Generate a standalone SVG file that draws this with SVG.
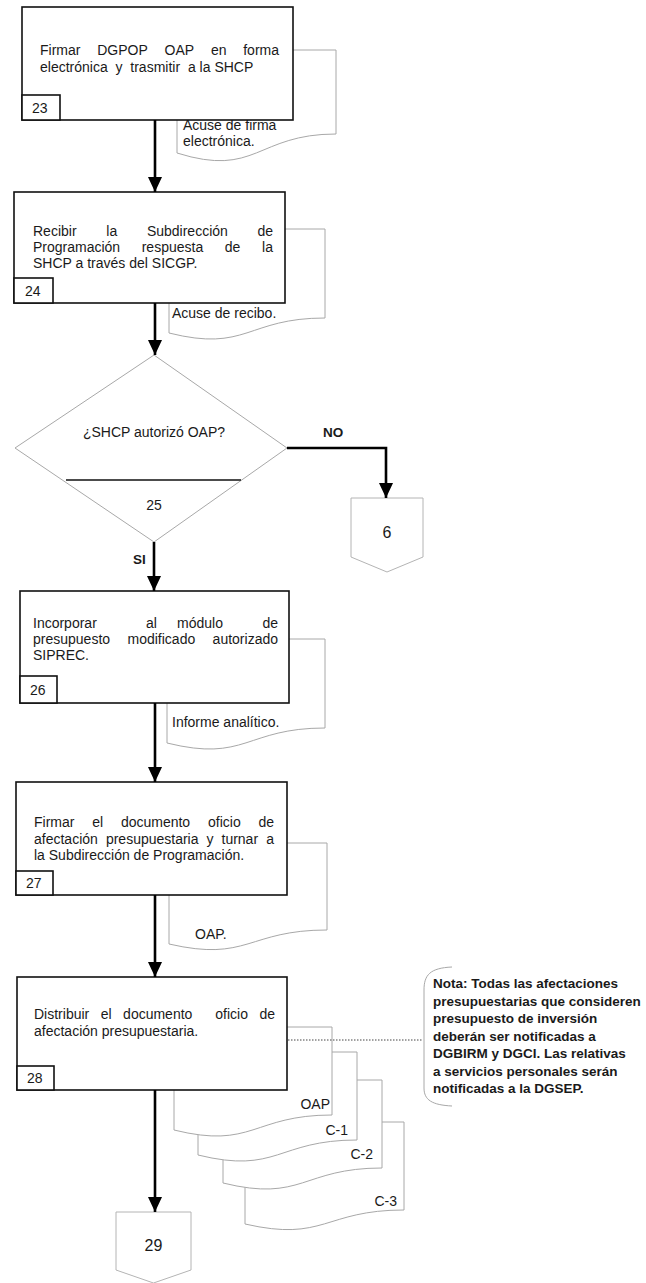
<svg xmlns="http://www.w3.org/2000/svg" width="646" height="1283" viewBox="0 0 646 1283">
<defs>
<style>
.box{fill:#fff;stroke:#111;stroke-width:1.6}
.doc{fill:#fff;stroke:#a8a8a8;stroke-width:1}
.conn{fill:#fff;stroke:#b4b4b4;stroke-width:1}
.dia{fill:#fff;stroke:#a8a8a8;stroke-width:1}
.t{font-family:"Liberation Sans",Arial,sans-serif;font-size:14px;fill:#1a1a1a}
.n{font-family:"Liberation Sans",Arial,sans-serif;font-size:14px;fill:#1a1a1a}
.nb{font-family:"Liberation Sans",Arial,sans-serif;font-size:13.5px;font-weight:bold;fill:#1a1a1a}
.b{font-weight:bold}
.big{font-family:"Liberation Sans",Arial,sans-serif;font-size:16px;fill:#1a1a1a;text-anchor:middle}
.arrow{stroke:#000;stroke-width:2.6;fill:none;marker-end:url(#ah)}
.dot{stroke:#444;stroke-width:1;stroke-dasharray:1.5,1.5;fill:none}
.brk{stroke:#a8a8a8;stroke-width:1;fill:none}
</style>
<marker id="ah" markerUnits="userSpaceOnUse" markerWidth="15" markerHeight="14" refX="15" refY="7" orient="auto">
<path d="M0,0 L15,7 L0,14 Z" fill="#000"/>
</marker>
</defs>
<rect x="0" y="0" width="646" height="1283" fill="#fff"/>

<g id="doc23">
<path class="doc" d="M177,50 H336 V134 C256.5,134 256.5,178 177,153 Z"/>
<text class="t" x="183" y="130">Acuse de firma</text>
<text class="t" x="183" y="146">electrónica.</text>
</g>
<g id="node23">
<rect class="box" x="22" y="7" width="271" height="113"/>
<text class="t" y="55"><tspan x="40">Firmar</tspan><tspan x="97.2">DGPOP</tspan><tspan x="164.5">OAP</tspan><tspan x="210.9">en</tspan><tspan x="279" text-anchor="end">forma</tspan></text>
<text class="t" y="72"><tspan x="40">electrónica</tspan><tspan x="115.5">y</tspan><tspan x="130.3">trasmitir</tspan><tspan x="187.9">a</tspan><tspan x="199.6">la</tspan><tspan x="214.4">SHCP</tspan></text>
<rect class="box" x="22" y="95" width="38" height="25"/>
<text class="n" x="32" y="113">23</text>
</g>

<g id="doc24">
<path class="doc" d="M169,229 H325 V318 C247,318 247,352.6 169,333 Z"/>
<text class="t" x="172" y="318">Acuse de recibo.</text>
</g>
<g id="node24">
<rect class="box" x="14" y="192" width="271" height="111"/>
<text class="t" y="236"><tspan x="33">Recibir</tspan><tspan x="106.3">la</tspan><tspan x="146.9">Subdirección</tspan><tspan x="273" text-anchor="end">de</tspan></text>
<text class="t" y="252"><tspan x="33">Programación</tspan><tspan x="141.7">respuesta</tspan><tspan x="224.8">de</tspan><tspan x="273" text-anchor="end">la</tspan></text>
<text class="t" y="268"><tspan x="33">SHCP a través del SICGP.</tspan></text>
<rect class="box" x="14" y="278" width="39" height="25"/>
<text class="n" x="25" y="296">24</text>
</g>

<g id="node25">
<path class="dia" d="M154,355 L287,448 L154,542 L15,448 Z"/>
<line x1="66" y1="480" x2="241" y2="480" stroke="#111" stroke-width="1.6"/>
<text class="t" x="154" y="437" text-anchor="middle">¿SHCP autorizó OAP?</text>
<text class="t" x="154" y="510" text-anchor="middle">25</text>
</g>

<g id="conn6">
<path class="conn" d="M351,498 H423 V557 L387,572 L351,557 Z"/>
<text class="big" x="387" y="538">6</text>
</g>

<g id="doc26">
<path class="doc" d="M167,639 H325 V728 C246,728 246,762.6 167,743 Z"/>
<text class="t" x="172" y="727">Informe analítico.</text>
</g>
<g id="node26">
<rect class="box" x="20" y="591" width="269" height="112"/>
<text class="t" y="628"><tspan x="33">Incorporar</tspan><tspan x="146">al</tspan><tspan x="177">módulo</tspan><tspan x="278" text-anchor="end">de</tspan></text>
<text class="t" y="644"><tspan x="33">presupuesto</tspan><tspan x="127.5">modificado</tspan><tspan x="278" text-anchor="end">autorizado</tspan></text>
<text class="t" y="660"><tspan x="33">SIPREC.</tspan></text>
<rect class="box" x="20" y="676" width="37" height="27"/>
<text class="n" x="30" y="695">26</text>
</g>

<g id="doc27">
<path class="doc" d="M169,843 H327 V930 C248,930 248,962.3 169,944 Z"/>
<text class="t" x="195" y="939">OAP.</text>
</g>
<g id="node27">
<rect class="box" x="16" y="782" width="271" height="113"/>
<text class="t" y="827"><tspan x="34">Firmar</tspan><tspan x="92.2">el</tspan><tspan x="120.9">documento</tspan><tspan x="208">oficio</tspan><tspan x="274" text-anchor="end">de</tspan></text>
<text class="t" y="843.5"><tspan x="34">afectación</tspan><tspan x="105.9">presupuestaria</tspan><tspan x="206.5">y</tspan><tspan x="221.5">turnar</tspan><tspan x="274" text-anchor="end">a</tspan></text>
<text class="t" y="860"><tspan x="34">la Subdirección de Programación.</tspan></text>
<rect class="box" x="16" y="871" width="37" height="24"/>
<text class="n" x="26" y="888">27</text>
</g>

<g id="doc28c3">
<path class="doc" d="M245,1122 H404 V1210 C324.5,1210 324.5,1242.3 245,1224 Z"/>
<text class="t" x="397" y="1206" text-anchor="end">C-3</text>
</g>
<g id="doc28c2">
<path class="doc" d="M223,1080 H382 V1168 C302.5,1168 302.5,1202.6 223,1183 Z"/>
<text class="t" x="373" y="1159" text-anchor="end">C-2</text>
</g>
<g id="doc28c1">
<path class="doc" d="M198,1052 H357 V1140 C277.5,1140 277.5,1174.6 198,1155 Z"/>
<text class="t" x="348" y="1135" text-anchor="end">C-1</text>
</g>
<g id="doc28oap">
<path class="doc" d="M174,1027 H332 V1115 C253,1115 253,1149.6 174,1130 Z"/>
<text class="t" x="330" y="1109" text-anchor="end">OAP</text>
</g>
<g id="node28">
<rect class="box" x="17" y="977" width="270" height="113"/>
<text class="t" y="1019"><tspan x="34">Distribuir</tspan><tspan x="100.7">el</tspan><tspan x="123.1">documento</tspan><tspan x="215.3">oficio</tspan><tspan x="275" text-anchor="end">de</tspan></text>
<text class="t" y="1036"><tspan x="34">afectación presupuestaria.</tspan></text>
<rect class="box" x="17" y="1066" width="37" height="24"/>
<text class="n" x="27" y="1083">28</text>
</g>

<g id="note">
<path class="brk" d="M452,967 C430,968 424,975 424,990 V1088 C424,1100 432,1105 452,1106"/>
<text class="nb" x="433" y="988">Nota: Todas las afectaciones</text>
<text class="nb" x="433" y="1005.5">presupuestarias que consideren</text>
<text class="nb" x="433" y="1023">presupuesto de inversión</text>
<text class="nb" x="433" y="1040.5">deberán ser notificadas a</text>
<text class="nb" x="433" y="1058">DGBIRM y DGCI. Las relativas</text>
<text class="nb" x="433" y="1075.5">a servicios personales serán</text>
<text class="nb" x="433" y="1093">notificadas a la DGSEP.</text>
</g>

<g id="conn29">
<path class="conn" d="M116,1212 H191 V1270 L153.5,1283 L116,1270 Z"/>
<text class="big" x="153.5" y="1251">29</text>
</g>

<g id="connectors">
<line class="arrow" x1="155" y1="120" x2="155" y2="192"/>
<line class="arrow" x1="155" y1="303" x2="155" y2="355"/>
<path class="arrow" d="M287,448 H386 V498"/>
<text class="nb" x="323" y="437">NO</text>
<line class="arrow" x1="154" y1="542" x2="154" y2="591"/>
<text class="nb" x="133" y="564">SI</text>
<line class="arrow" x1="155" y1="703" x2="155" y2="782"/>
<line class="arrow" x1="155" y1="895" x2="155" y2="977"/>
<line class="arrow" x1="155" y1="1090" x2="155" y2="1212"/>
<line class="dot" x1="288" y1="1040" x2="423" y2="1040"/>
</g>
</svg>
